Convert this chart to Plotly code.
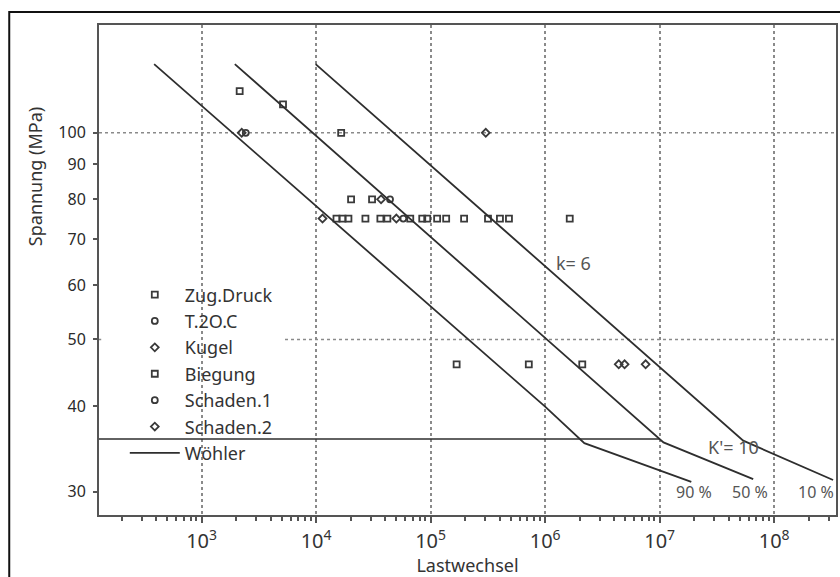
import numpy as np
import plotly.graph_objects as go

# ---------------- data ----------------
# Zug.Druck (squares) - tests at 75 MPa and 80 MPa
zug_N = [15060, 17000, 19150, 26950, 36400, 41900, 66400, 84500, 93400, 114000,
         136700, 196000, 317000, 403000, 483000, 1640000, 20200, 30800]
zug_S = [75, 75, 75, 75, 75, 75, 75, 75, 75, 75,
         75, 75, 75, 75, 75, 75, 80, 80]
# T.2O.C (circles)
t20c_N = [44200, 57700]
t20c_S = [80, 75]
# Kugel (diamonds)
kugel_N = [2240, 11370, 36900, 50200]
kugel_S = [100, 75, 80, 75]
# Biegung (squares)
bieg_N = [2150, 5140, 16550, 168700, 720000, 2110000]
bieg_S = [115, 110, 100, 46, 46, 46]
# Schaden.1 (circles)
sch1_N = [2430]
sch1_S = [100]
# Schaden.2 (diamonds)
sch2_N = [303000, 4390000, 4940000, 7540000]
sch2_S = [100, 46, 46, 46]

# Woehler lines (survival probability 90 %, 50 %, 10 %)
w90_N = [385, 1000000, 2200000, 18900000]
w90_S = [125.9, 39.9, 35.3, 31.0]
w50_N = [1950, 10800000, 65600000]
w50_S = [125.9, 35.4, 31.3]
w10_N = [9900, 53700000, 327000000]
w10_S = [125.9, 35.6, 31.2]

# horizontal reference line (endurance level)
limit_S = 35.8
limit_N_end = 1e7

# horizontal grid levels
grid_S = [100, 50]

# axes
x_range_log = [2.104, 8.54]
y_range_log = [1.4432, 2.157]
y_ticks = [30, 40, 50, 60, 70, 80, 90, 100]

# labels
labels = [
    ("k= 6", 1.78e6, 64.6, 18),
    ("K'= 10", 4.4e7, 34.9, 18),
    ("90 %", 2.01e7, 30.0, 16),
    ("50 %", 6.14e7, 30.0, 16),
    ("10 %", 2.3e8, 30.0, 16),
]

FONT = "Noto Sans"
TXT = "#333333"
MK = "#3a3a3a"
LN = "#2e2e2e"


def ypaper(v):
    return (np.log10(v) - y_range_log[0]) / (y_range_log[1] - y_range_log[0])


fig = go.Figure()

x_lo = 10 ** x_range_log[0]

# horizontal solid reference line
fig.add_trace(go.Scatter(x=[x_lo, limit_N_end], y=[limit_S, limit_S], mode="lines",
                         line=dict(color=LN, width=1.5), showlegend=False, hoverinfo="skip"))


def pts(name, N, S, symbol):
    fig.add_trace(go.Scatter(
        x=N, y=S, mode="markers", name=name,
        marker=dict(symbol=symbol, size=6, color=MK,
                    line=dict(color=MK, width=1.8))))


pts("Zug.Druck", zug_N, zug_S, "square-open")
pts("T.2O.C", t20c_N, t20c_S, "circle-open")
pts("Kugel", kugel_N, kugel_S, "diamond-open")
pts("Biegung", bieg_N, bieg_S, "square-open")
pts("Schaden.1", sch1_N, sch1_S, "circle-open")
pts("Schaden.2", sch2_N, sch2_S, "diamond-open")

for i, (N, S) in enumerate([(w90_N, w90_S), (w50_N, w50_S), (w10_N, w10_S)]):
    fig.add_trace(go.Scatter(x=N, y=S, mode="lines", name="Wöhler",
                             legendgroup="w", showlegend=(i == 0),
                             line=dict(color=LN, width=1.8)))

for txt, n, s, fs in labels:
    fig.add_annotation(x=np.log10(n), y=np.log10(s), text=txt, showarrow=False,
                       font=dict(family=FONT, size=fs, color="#555555"))

# y axis title (placed in the upper part, as in the original)
fig.add_annotation(xref="paper", yref="paper", x=(35 - 99) / 739, y=(515 - 177) / 490,
                   xanchor="center", yanchor="middle",
                   text="Spannung (MPa)", textangle=-90, showarrow=False,
                   font=dict(family=FONT, size=18, color=TXT))

# horizontal dotted grid lines (between grid and traces)
for s in grid_S:
    fig.add_shape(type="line", xref="paper", yref="paper", x0=0, x1=1,
                  y0=ypaper(s), y1=ypaper(s), layer="between",
                  line=dict(color="#8a8a8a", width=1.5, dash="dot"))

# white panel behind the legend (hides grid, not the traces)
fig.add_shape(type="rect", xref="paper", yref="paper",
              x0=0.003, x1=0.249, y0=0.061, y1=0.510, layer="between",
              line=dict(width=0), fillcolor="white")

# outer black frame
fig.add_shape(type="rect", xref="paper", yref="paper",
              x0=(9 - 99) / 739, x1=(845 - 99) / 739,
              y0=(515 - 585) / 490, y1=(515 - 12) / 490,
              line=dict(color="#111111", width=2), fillcolor="rgba(0,0,0,0)")

fig.update_layout(
    width=840, height=577,
    margin=dict(l=99, r=2, t=25, b=62),
    paper_bgcolor="white", plot_bgcolor="white",
    font=dict(family=FONT, color=TXT, size=15),
    showlegend=True,
    legend=dict(x=0.035, y=0.487, xanchor="left", yanchor="top",
                bgcolor="rgba(0,0,0,0)", borderwidth=0, itemwidth=50,
                font=dict(family=FONT, size=18, color=TXT),
                traceorder="normal", tracegroupgap=0),
    xaxis=dict(type="log", range=x_range_log, dtick=1, exponentformat="power",
               showgrid=True, gridcolor="#8a8a8a", griddash="dot", gridwidth=1.5,
               showline=True, mirror=True, linecolor="#555555", linewidth=2,
               ticks="outside", ticklen=6, tickcolor="#555555", tickwidth=1.5,
               minor=dict(ticks="outside", ticklen=4, tickcolor="#555555", dtick="D1", showgrid=False),
               tickfont=dict(size=16, color=TXT), ticklabelstandoff=2,
               title=dict(text="Lastwechsel", font=dict(size=18, color=TXT), standoff=6),
               zeroline=False),
    yaxis=dict(type="log", range=y_range_log, tickvals=y_ticks,
               ticktext=[str(v) for v in y_ticks],
               showgrid=False, showline=True, mirror=True, linecolor="#555555", linewidth=2,
               ticks="outside", ticklen=4, tickcolor="#555555", tickwidth=1.5,
               tickfont=dict(size=16, color="#2a2a2a"), ticklabelstandoff=4,
               zeroline=False),
)

fig.write_html("out.html")
